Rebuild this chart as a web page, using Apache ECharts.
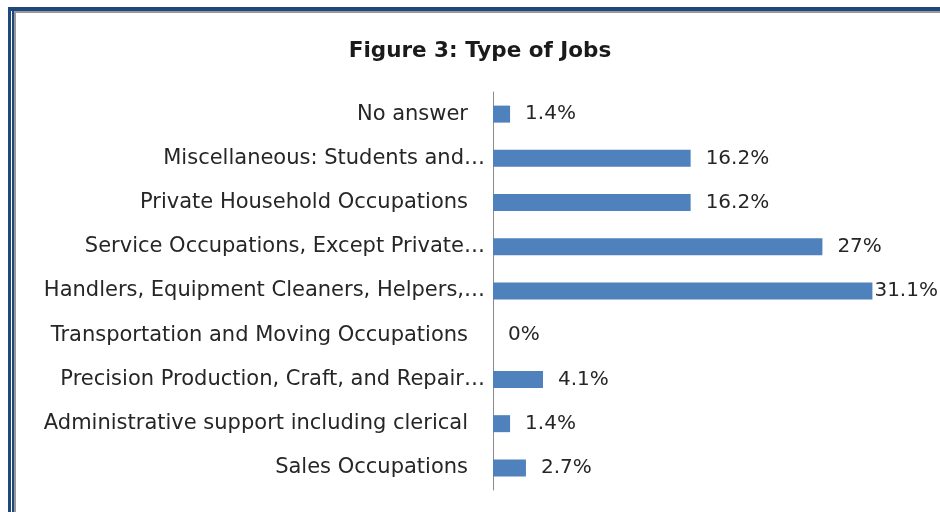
<!DOCTYPE html>
<html>
<head>
<meta charset="utf-8">
<script src="https://cdn.jsdelivr.net/npm/echarts@6/dist/echarts.min.js"></script>
<style>
html,body{margin:0;padding:0;background:#fff;}
#chart{width:940px;height:512px;}
</style>
</head>
<body>
<div id="chart"></div>
<script>
// Data (top to bottom, as shown)
var titleText = 'Figure 3: Type of Jobs';
var categories = [
  'No answer',
  'Miscellaneous: Students and\u2026',
  'Private Household Occupations',
  'Service Occupations, Except Private\u2026',
  'Handlers, Equipment Cleaners, Helpers,\u2026',
  'Transportation and Moving Occupations',
  'Precision Production, Craft, and Repair\u2026',
  'Administrative support including clerical',
  'Sales Occupations'
];
var percentValues = [1.4, 16.2, 16.2, 27, 31.1, 0, 4.1, 1.4, 2.7];

var FONT = 'DejaVu Sans';
var TEXT = '#262626';
var maxVal = Math.max.apply(null, percentValues);

var chart = echarts.init(document.getElementById('chart'), null, {renderer: 'canvas'});
chart.setOption({
  animation: false,
  backgroundColor: '#ffffff',
  title: {
    text: titleText,
    left: 475,
    textAlign: 'center',
    top: 35,
    textStyle: {fontFamily: FONT, fontSize: 21.5, fontWeight: 'bold', color: '#1a1a1a'}
  },
  grid: {left: 493, top: 92, width: 427, bottom: 22, containLabel: false},
  xAxis: {
    type: 'value', min: 0, max: 35,
    show: false
  },
  yAxis: {
    type: 'category',
    inverse: true,
    data: categories,
    axisLine: {show: true, lineStyle: {color: '#8c8c8c', width: 1}},
    axisTick: {show: false},
    splitLine: {show: false},
    axisLabel: {
      margin: 8,
      fontFamily: FONT,
      fontSize: 21,
      color: TEXT,
      formatter: function (v) {
        if (v.charAt(v.length - 1) === '\u2026') return '{e|' + v + '}';
        return '{p|' + v + '}';
      },
      rich: {
        e: {fontFamily: FONT, fontSize: 21, color: TEXT},
        p: {fontFamily: FONT, fontSize: 21, color: TEXT, padding: [0, 17, 0, 0]}
      }
    }
  },
  series: [{
    type: 'bar',
    barWidth: 17,
    itemStyle: {color: '#4F81BD'},
    label: {
      show: true,
      position: 'right',
      distance: 15,
      fontFamily: FONT,
      fontSize: 20,
      color: TEXT,
      formatter: function (p) { return p.value + '%'; }
    },
    data: percentValues.map(function (v) {
      return v === maxVal ? {value: v, label: {distance: 2}} : v;
    })
  }],
  graphic: [
    {type: 'rect', shape: {x: 8, y: 7, width: 932, height: 4}, style: {fill: '#1F497D'}, silent: true},
    {type: 'rect', shape: {x: 8, y: 7, width: 3, height: 505}, style: {fill: '#1F497D'}, silent: true},
    {type: 'rect', shape: {x: 12, y: 9, width: 2, height: 503}, style: {fill: '#1F497D'}, silent: true},
    {type: 'rect', shape: {x: 14, y: 11, width: 926, height: 2}, style: {fill: '#999999'}, silent: true},
    {type: 'rect', shape: {x: 14, y: 11, width: 2, height: 501}, style: {fill: '#999999'}, silent: true}
  ]
});
</script>
</body>
</html>
